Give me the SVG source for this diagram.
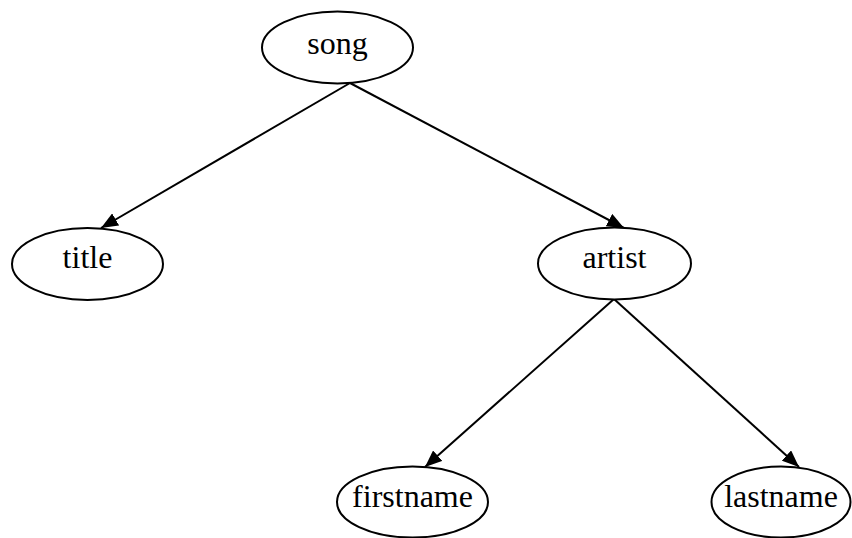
<svg xmlns="http://www.w3.org/2000/svg" width="852" height="538" viewBox="0 0 852 538">
<style>
.n ellipse{fill:#fff;stroke:#000;stroke-width:2}
.n text{font-family:"Liberation Serif","Times New Roman",serif;font-size:32px;fill:#000;text-anchor:middle}
.e line{stroke:#000;stroke-width:2}
</style>
<defs>
<marker id="ah" markerUnits="userSpaceOnUse" markerWidth="18" markerHeight="14" refX="17" refY="7" orient="auto">
<path d="M0,0 L17,7 L0,14 Z" fill="#000"/>
</marker>
</defs>
<rect width="852" height="538" fill="#fff"/>
<g id="edges" class="e">
<line x1="350" y1="83" x2="101" y2="228" marker-end="url(#ah)"/>
<line x1="350" y1="83" x2="624" y2="228" marker-end="url(#ah)"/>
<line x1="614" y1="299" x2="425" y2="467" marker-end="url(#ah)"/>
<line x1="614" y1="299" x2="799" y2="467" marker-end="url(#ah)"/>
</g>
<g id="song" class="n"><ellipse cx="337.5" cy="47.5" rx="75.5" ry="36"/><text x="337.5" y="54">song</text></g>
<g id="title" class="n"><ellipse cx="87.5" cy="264" rx="75.5" ry="36"/><text x="87.5" y="268">title</text></g>
<g id="artist" class="n"><ellipse cx="614.5" cy="263.5" rx="76.5" ry="36"/><text x="614.5" y="268">artist</text></g>
<g id="firstname" class="n"><ellipse cx="412.5" cy="502" rx="75.5" ry="35.5"/><text x="412.5" y="507">firstname</text></g>
<g id="lastname" class="n"><ellipse cx="781" cy="502" rx="69.5" ry="35.5"/><text x="781" y="507">lastname</text></g>
</svg>
